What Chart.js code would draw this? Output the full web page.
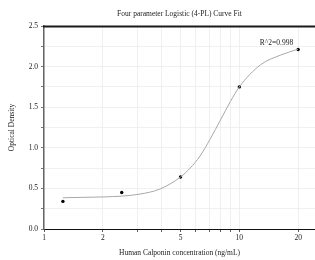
<!DOCTYPE html>
<html>
<head>
<meta charset="utf-8">
<script src="https://cdn.jsdelivr.net/npm/chart.js@4/dist/chart.umd.min.js"></script>
<style>
html,body{margin:0;padding:0;background:#fff;}
#wrap{width:315px;height:260px;}
</style>
</head>
<body>
<div id="wrap"><canvas id="c" width="315" height="260"></canvas></div>
<script>
const pointX = [1.25, 2.5, 5, 10, 20];
const pointY = [0.34, 0.45, 0.64, 1.75, 2.21];
const curveX = [1.25, 1.6, 2.0, 2.5, 3.1, 3.9, 5.0, 5.6, 6.3, 7.1, 8.0, 9.0, 10, 12.8, 16.2, 20];
const curveY = [0.385, 0.39, 0.395, 0.405, 0.43, 0.49, 0.64, 0.75, 0.90, 1.11, 1.34, 1.57, 1.75, 2.02, 2.14, 2.215];
const xTicks = [1, 2, 3, 4, 5, 6, 7, 8, 9, 10, 20];
const xTickLabels = ['1', '2', '5', '10', '20'];
const titleText = 'Four parameter Logistic (4-PL) Curve Fit';
const xTitle = 'Human Calponin concentration (ng/mL)';
const yTitle = 'Optical Density';
const r2Text = 'R^2=0.998';
const r2Pos = [15.5, 2.29];

const FONT = 'Liberation Serif';

const annot = {
  id: 'annot',
  afterDraw(chart) {
    const ctx = chart.ctx;
    const xs = chart.scales.x, ys = chart.scales.y;
    const a = chart.chartArea;
    ctx.save();
    ctx.strokeStyle = '#1a1a1a';
    ctx.lineWidth = 2.2;
    ctx.beginPath();
    ctx.moveTo(a.left - 1, Math.round(a.top) + 0.5);
    ctx.lineTo(chart.width, Math.round(a.top) + 0.5);
    ctx.stroke();
    ctx.font = '7.5px "' + FONT + '"';
    ctx.fillStyle = '#222';
    ctx.textAlign = 'center';
    ctx.textBaseline = 'middle';
    ctx.fillText(r2Text, xs.getPixelForValue(r2Pos[0]), ys.getPixelForValue(r2Pos[1]));
    ctx.restore();
  }
};

new Chart(document.getElementById('c'), {
  type: 'scatter',
  data: {
    datasets: [
      {
        type: 'line',
        data: curveX.map((x, i) => ({x: x, y: curveY[i]})),
        borderColor: '#a8a8a8',
        borderWidth: 1,
        pointRadius: 0,
        cubicInterpolationMode: 'monotone',
        fill: false
      },
      {
        data: pointX.map((x, i) => ({x: x, y: pointY[i]})),
        backgroundColor: '#000',
        borderColor: '#000',
        pointRadius: 1.7,
        borderWidth: 0
      }
    ]
  },
  options: {
    responsive: false,
    animation: false,
    devicePixelRatio: 1,
    layout: {padding: 0, autoPadding: false},
    plugins: {
      legend: {display: false},
      tooltip: {enabled: false},
      title: {
        display: true,
        fullSize: false,
        text: titleText,
        color: '#222',
        font: {family: FONT, size: 7.5, weight: 'normal'},
        padding: {top: 10, bottom: 7}
      }
    },
    scales: {
      x: {
        type: 'logarithmic',
        min: 1,
        max: 24.4,
        afterBuildTicks(s) { s.ticks = xTicks.map(v => ({value: v})); },
        afterFit(s) { s.height = 31; s.paddingLeft = 0; s.paddingRight = 0; },
        ticks: {
          autoSkip: false,
          maxRotation: 0,
          padding: 2,
          color: '#222',
          font: {family: FONT, size: 7.5},
          callback: (v) => xTickLabels.includes(String(v)) ? String(v) : ''
        },
        grid: {
          color: '#ececec',
          lineWidth: 0.8,
          tickLength: 3,
          tickColor: '#333'
        },
        border: {display: true, color: '#111', width: 1},
        title: {
          display: true,
          text: xTitle,
          color: '#222',
          font: {family: FONT, size: 7.5},
          padding: {top: 0, bottom: 2}
        }
      },
      y: {
        min: 0,
        max: 2.5,
        afterFit(s) { s.width = 44; s.paddingTop = 0; s.paddingBottom = 0; },
        ticks: {
          stepSize: 0.25,
          autoSkip: false,
          padding: 3,
          color: '#222',
          font: {family: FONT, size: 7.5},
          callback: (v) => {
            const s = Number(v).toFixed(1);
            return (Math.abs(v * 2 - Math.round(v * 2)) < 1e-6) ? s : '';
          }
        },
        grid: {
          color: '#ececec',
          lineWidth: 0.8,
          tickLength: 3,
          tickColor: '#555'
        },
        border: {display: true, color: '#666', width: 1.5},
        title: {
          display: true,
          text: yTitle,
          color: '#222',
          font: {family: FONT, size: 7.5},
          padding: {top: 8, bottom: 0}
        }
      }
    }
  },
  plugins: [annot]
});
</script>
</body>
</html>
